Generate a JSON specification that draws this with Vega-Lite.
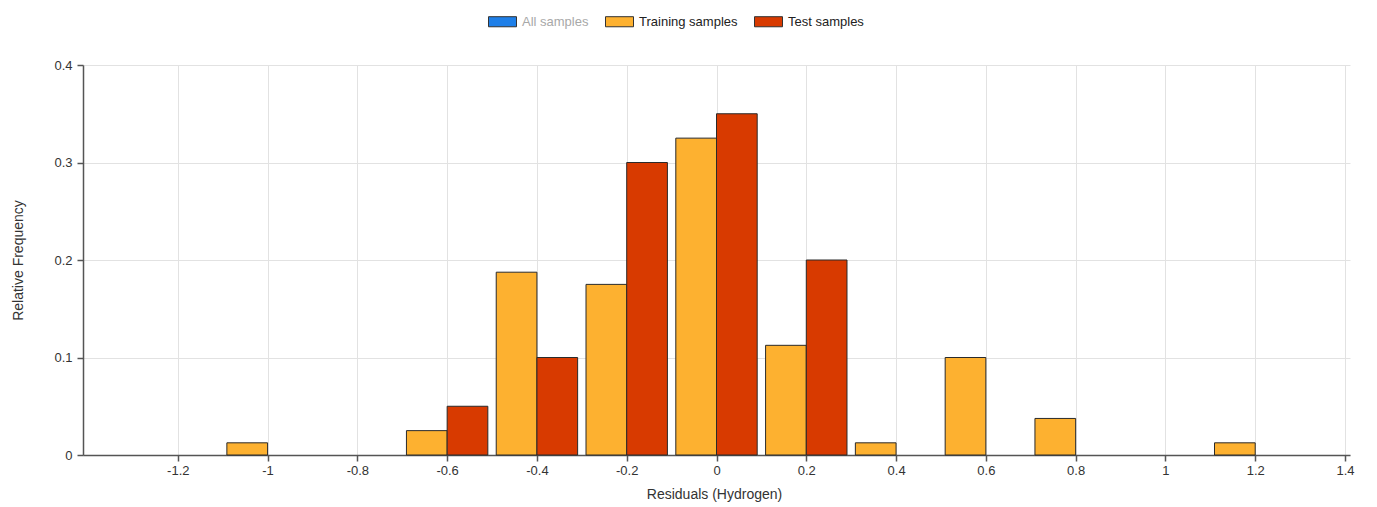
{
  "$schema": "https://vega.github.io/schema/vega-lite/v6.json",
  "width": 1267,
  "height": 390,
  "autosize": {"type": "none"},
  "padding": {"left": 83, "top": 65, "right": 27, "bottom": 52},
  "background": "white",
  "config": {
    "view": {"stroke": null},
    "font": "Liberation Sans",
    "axis": {
      "labelFont": "Liberation Sans",
      "titleFont": "Liberation Sans",
      "labelFontSize": 13,
      "titleFontSize": 14,
      "titleFontWeight": "normal",
      "labelColor": "#333",
      "titleColor": "#333",
      "domainColor": "#555",
      "domainWidth": 1.5,
      "tickColor": "#555",
      "tickWidth": 1.5,
      "tickSize": 6,
      "gridColor": "#e2e2e2",
      "gridWidth": 1
    }
  },
  "data": {
    "values": [
      {"residual": -1.0, "series": "Training samples", "freq": 0.0125},
      {"residual": -0.6, "series": "Training samples", "freq": 0.025},
      {"residual": -0.4, "series": "Training samples", "freq": 0.1875},
      {"residual": -0.2, "series": "Training samples", "freq": 0.175},
      {"residual": 0.0, "series": "Training samples", "freq": 0.325},
      {"residual": 0.2, "series": "Training samples", "freq": 0.1125},
      {"residual": 0.4, "series": "Training samples", "freq": 0.0125},
      {"residual": 0.6, "series": "Training samples", "freq": 0.1},
      {"residual": 0.8, "series": "Training samples", "freq": 0.0375},
      {"residual": 1.2, "series": "Training samples", "freq": 0.0125},
      {"residual": -0.6, "series": "Test samples", "freq": 0.05},
      {"residual": -0.4, "series": "Test samples", "freq": 0.1},
      {"residual": -0.2, "series": "Test samples", "freq": 0.3},
      {"residual": 0.0, "series": "Test samples", "freq": 0.35},
      {"residual": 0.2, "series": "Test samples", "freq": 0.2}
    ]
  },
  "encoding": {
    "x": {
      "field": "residual",
      "type": "quantitative",
      "scale": {"domain": [-1.4, 1.4], "nice": false, "zero": false},
      "axis": {
        "title": "Residuals (Hydrogen)",
        "values": [-1.2, -1, -0.8, -0.6, -0.4, -0.2, 0, 0.2, 0.4, 0.6, 0.8, 1, 1.2, 1.4],
        "format": "~g",
        "labelExpr": "replace(datum.label, '\u2212', '-')",
        "labelPadding": 3,
        "titleX": 631,
        "titleY": 39,
        "titleBaseline": "middle",
        "titleAlign": "center"
      }
    },
    "y": {
      "field": "freq",
      "type": "quantitative",
      "scale": {"domain": [0, 0.4], "nice": false},
      "axis": {
        "title": "Relative Frequency",
        "values": [0, 0.1, 0.2, 0.3, 0.4],
        "format": "~g",
        "labelPadding": 5,
        "titleX": -65,
        "titleY": 195,
        "titleBaseline": "middle",
        "titleAlign": "center"
      }
    },
    "color": {
      "field": "series",
      "type": "nominal",
      "scale": {
        "domain": ["All samples", "Training samples", "Test samples"],
        "range": ["#1e7fe8", "#fdb130", "#d83a00"]
      },
      "legend": {
        "title": null,
        "orient": "none",
        "direction": "horizontal",
        "legendX": 405,
        "legendY": -58,
        "symbolType": "M-1,-0.36H1V0.36H-1Z",
        "symbolSize": 784,
        "symbolStrokeColor": "#333",
        "symbolStrokeWidth": 1,
        "symbolOpacity": 1,
        "labelFontSize": 13,
        "labelFont": "Liberation Sans",
        "labelOffset": 5,
        "columnPadding": 14,
        "labelColor": "#222",
        "encode": {
          "labels": {
            "update": {
              "fill": {"signal": "datum.label === 'All samples' ? '#a8a8a8' : '#222'"}
            }
          }
        }
      }
    }
  },
  "layer": [
    {
      "transform": [{"filter": "datum.series === 'Training samples'"}],
      "mark": {"type": "bar", "width": 40.7, "xOffset": -20.35, "stroke": "#2a2a2a", "strokeWidth": 1, "opacity": 1}
    },
    {
      "transform": [{"filter": "datum.series === 'Test samples'"}],
      "mark": {"type": "bar", "width": 40.7, "xOffset": 20.35, "stroke": "#2a2a2a", "strokeWidth": 1, "opacity": 1}
    }
  ]
}
